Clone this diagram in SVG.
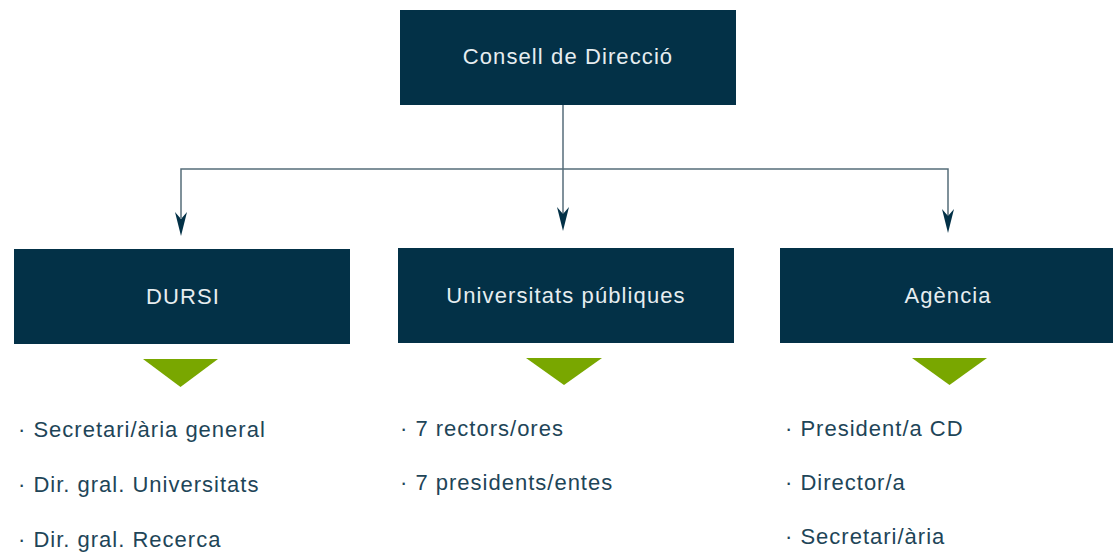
<svg xmlns="http://www.w3.org/2000/svg" width="1113" height="555" viewBox="0 0 1113 555">
<style>
.box{fill:#033147}
.lbl{font-family:"Liberation Sans",Arial,sans-serif;font-size:22px;letter-spacing:1.1px;fill:#e6edf0;text-anchor:middle}
.item{font-family:"Liberation Sans",Arial,sans-serif;font-size:22px;letter-spacing:1px;fill:#1e4558}
.tri{fill:#79a700}
.wire{fill:none;stroke:#566d7a;stroke-width:1.5}
.head{fill:#033147}
</style>
<rect width="1113" height="555" fill="#ffffff"/>
<g id="connectors">
<path class="wire" d="M563 105 V214"/>
<path class="wire" d="M181 218 V169 H948 V216"/>
<path class="head" d="M563 231 L557 207 L563 214 L569 207 Z"/>
<path class="head" d="M181 236 L175 212 L181 219 L187 212 Z"/>
<path class="head" d="M948 233 L942 209 L948 216 L954 209 Z"/>
</g>
<g id="consell">
<rect class="box" x="400" y="10" width="336" height="95"/>
<text class="lbl" x="568" y="64">Consell de Direcció</text>
</g>
<g id="dursi">
<rect class="box" x="14" y="249" width="336" height="95"/>
<text class="lbl" x="183" y="304">DURSI</text>
<polygon class="tri" points="143,359 218,359 180.5,387"/>
<text class="item" x="18" y="437">· Secretari/ària general</text>
<text class="item" x="18" y="492">· Dir. gral. Universitats</text>
<text class="item" x="18" y="547">· Dir. gral. Recerca</text>
</g>
<g id="universitats">
<rect class="box" x="398" y="248" width="336" height="95"/>
<text class="lbl" x="566" y="303">Universitats públiques</text>
<polygon class="tri" points="526,358 602,358 564,385"/>
<text class="item" x="400" y="436">· 7 rectors/ores</text>
<text class="item" x="400" y="490">· 7 presidents/entes</text>
</g>
<g id="agencia">
<rect class="box" x="780" y="248" width="334" height="95"/>
<text class="lbl" x="948" y="303">Agència</text>
<polygon class="tri" points="912,358 987,358 949.5,385"/>
<text class="item" x="785" y="436">· President/a CD</text>
<text class="item" x="785" y="490">· Director/a</text>
<text class="item" x="785" y="544">· Secretari/ària</text>
</g>
</svg>
